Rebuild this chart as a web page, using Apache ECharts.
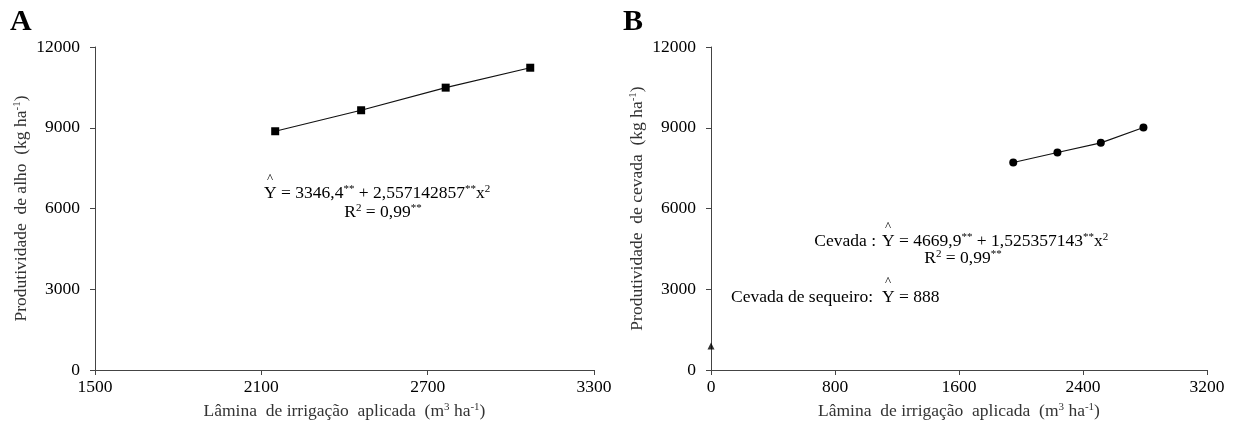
<!DOCTYPE html>
<html>
<head>
<meta charset="utf-8">
<script src="https://cdn.jsdelivr.net/npm/echarts@6/dist/echarts.min.js"></script>
<style>
  html, body { margin: 0; padding: 0; background: #fff; }
  #chart { width: 1234px; height: 428px; }
</style>
</head>
<body>
<div id="chart"></div>
<script>
// 数据 A: alho
const laminaAlho = [2150, 2460, 2765, 3070];
const prodAlho = [8870, 9650, 10490, 11230];
// 数据 B: cevada
const laminaCevada = [1950, 2235, 2515, 2790];
const prodCevada = [7710, 8080, 8440, 9010];
const sequeiro = [[0, 888]];
// 刻度
const ticksXA = [1500, 2100, 2700, 3300];
const ticksXB = [0, 800, 1600, 2400, 3200];
const ticksY = [0, 3000, 6000, 9000, 12000];

const FONT = '"Liberation Serif", "Times New Roman", serif';
const sup = { fontSize: 11, fontFamily: FONT, color: '#000', verticalAlign: 'top', lineHeight: 11 };
const supName = { fontSize: 11, fontFamily: FONT, color: '#333', verticalAlign: 'top', lineHeight: 11 };
const txt = { fontSize: 17.5, fontFamily: FONT, color: '#000', lineHeight: 19 };
const txtName = { fontSize: 17.5, fontFamily: FONT, color: '#333', lineHeight: 19 };

const chart = echarts.init(document.getElementById('chart'));

function xAxisOf(gridIndex, min, max, ticks) {
  return {
    type: 'value',
    gridIndex: gridIndex,
    min: min,
    max: max,
    interval: ticks[1] - ticks[0],
    name: '{t|Lâmina  de irrigação  aplicada  (m}{s|3}{t| ha}{s|-1}{t|)}',
    nameLocation: 'middle',
    nameGap: 32,
    nameTextStyle: { rich: { t: txtName, s: supName } },
    axisLine: { show: true, onZero: false, lineStyle: { color: '#444', width: 1 } },
    axisTick: { show: true, length: 5, customValues: ticks, lineStyle: { color: '#444' } },
    axisLabel: { customValues: ticks, margin: 8, fontSize: 17.5, fontFamily: FONT, color: '#000', formatter: v => String(v) },
    splitLine: { show: false }
  };
}

function yAxisOf(gridIndex, crop) {
  return {
    type: 'value',
    gridIndex: gridIndex,
    min: 0,
    max: 12000,
    interval: 3000,
    name: '{t|Produtividade  de ' + crop + '  (kg ha}{s|-1}{t|)}',
    nameLocation: 'middle',
    nameGap: 64,
    nameTextStyle: { rich: { t: txtName, s: supName } },
    axisLine: { show: true, onZero: false, lineStyle: { color: '#444', width: 1 } },
    axisTick: { show: true, length: 5, customValues: ticksY, lineStyle: { color: '#444' } },
    axisLabel: { customValues: ticksY, margin: 15, fontSize: 17.5, fontFamily: FONT, color: '#000', formatter: v => String(v) },
    splitLine: { show: false }
  };
}

function zip(xs, ys) {
  return xs.map((x, i) => [x, ys[i]]);
}

const option = {
  animation: false,
  backgroundColor: '#fff',
  grid: [
    { left: 95, right: 640, top: 47, bottom: 58, containLabel: false, outerBoundsMode: 'none' },
    { left: 711, right: 27, top: 47, bottom: 58, containLabel: false, outerBoundsMode: 'none' }
  ],
  xAxis: [xAxisOf(0, 1500, 3300, ticksXA), xAxisOf(1, 0, 3200, ticksXB)],
  yAxis: [yAxisOf(0, 'alho'), yAxisOf(1, 'cevada')],
  series: [
    {
      type: 'line',
      xAxisIndex: 0,
      yAxisIndex: 0,
      data: zip(laminaAlho, prodAlho),
      symbol: 'rect',
      symbolSize: 8,
      lineStyle: { color: '#111', width: 1.2 },
      itemStyle: { color: '#000' }
    },
    {
      type: 'line',
      xAxisIndex: 1,
      yAxisIndex: 1,
      data: zip(laminaCevada, prodCevada),
      symbol: 'circle',
      symbolSize: 8,
      lineStyle: { color: '#111', width: 1.2 },
      itemStyle: { color: '#000' }
    },
    {
      type: 'scatter',
      xAxisIndex: 1,
      yAxisIndex: 1,
      data: sequeiro,
      symbol: 'triangle',
      symbolSize: 7,
      itemStyle: { color: '#000' }
    }
  ],
  graphic: [
    // 标签 A / B
    { type: 'text', left: 10, top: 7, style: { text: 'A', font: 'bold 30px ' + FONT, fill: '#000' } },
    { type: 'text', left: 623, top: 7, style: { text: 'B', font: 'bold 30px ' + FONT, fill: '#000' } },
    // 方程 A
    { type: 'text', x: 264, y: 193, style: { text: '{t|Y = 3346,4}{s|**}{t| + 2,557142857}{s|**}{t|x}{s|2}', rich: { t: txt, s: sup }, align: 'left', verticalAlign: 'middle' } },
    { type: 'text', x: 270, y: 179, style: { text: '^', font: '13px ' + FONT, fill: '#000', align: 'center', verticalAlign: 'middle' } },
    { type: 'text', x: 383, y: 212, style: { text: '{t|R}{s|2}{t| = 0,99}{s|**}', rich: { t: txt, s: sup }, align: 'center', verticalAlign: 'middle' } },
    // 方程 B
    { type: 'text', x: 876, y: 241, style: { text: 'Cevada :', font: '17.5px ' + FONT, fill: '#000', align: 'right', verticalAlign: 'middle' } },
    { type: 'text', x: 882, y: 241, style: { text: '{t|Y = 4669,9}{s|**}{t| + 1,525357143}{s|**}{t|x}{s|2}', rich: { t: txt, s: sup }, align: 'left', verticalAlign: 'middle' } },
    { type: 'text', x: 888, y: 227, style: { text: '^', font: '13px ' + FONT, fill: '#000', align: 'center', verticalAlign: 'middle' } },
    { type: 'text', x: 963, y: 258, style: { text: '{t|R}{s|2}{t| = 0,99}{s|**}', rich: { t: txt, s: sup }, align: 'center', verticalAlign: 'middle' } },
    { type: 'text', x: 873, y: 297, style: { text: 'Cevada de sequeiro:', font: '17.5px ' + FONT, fill: '#000', align: 'right', verticalAlign: 'middle' } },
    { type: 'text', x: 882, y: 297, style: { text: 'Y = 888', font: '17.5px ' + FONT, fill: '#000', align: 'left', verticalAlign: 'middle' } },
    { type: 'text', x: 888, y: 282, style: { text: '^', font: '13px ' + FONT, fill: '#000', align: 'center', verticalAlign: 'middle' } }
  ]
};

chart.setOption(option);
</script>
</body>
</html>
